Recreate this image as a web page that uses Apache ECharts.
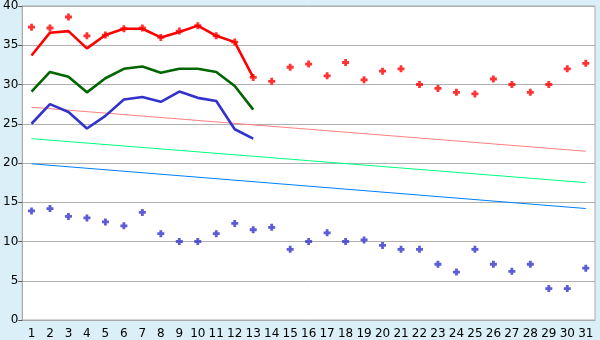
<!DOCTYPE html>
<html>
<head>
<meta charset="utf-8">
<script src="https://cdn.jsdelivr.net/npm/echarts@6/dist/echarts.min.js"></script>
<style>
  html, body { margin: 0; padding: 0; background: #daeff7; }
  #chart { width: 600px; height: 340px; }
</style>
</head>
<body>
<div id="chart"></div>
<script>
// days of the month
const days = [];
for (let d = 1; d <= 31; d++) days.push(String(d));

// thick lines (days 1..13)
const redLine = [33.7, 36.6, 36.8, 34.6, 36.3, 37.1, 37.1, 36.0, 36.7, 37.5, 36.2, 35.4, 30.9];
const greenLine = [29.1, 31.6, 31.0, 29.0, 30.8, 32.0, 32.3, 31.5, 32.0, 32.0, 31.6, 29.8, 26.8];
const blueLine = [25.0, 27.5, 26.5, 24.4, 26.0, 28.1, 28.4, 27.8, 29.1, 28.3, 27.9, 24.3, 23.1];

// scatter points
const redPoints = [37.3, 37.2, 38.6, 36.2, 36.3, 37.1, 37.2, 36.0, 36.8, 37.5, 36.2, 35.4, 30.9,
  30.4, 32.2, 32.6, 31.1, 32.8, 30.6, 31.7, 32.0, 30.0, 29.5, 29.0, 28.8, 30.7, 30.0, 29.0, 30.0, 32.0, 32.7];
const bluePoints = [13.9, 14.2, 13.2, 13.0, 12.5, 12.0, 13.7, 11.0, 10.0, 10.0, 11.0, 12.3, 11.5,
  11.8, 9.0, 10.0, 11.1, 10.0, 10.2, 9.5, 9.0, 9.0, 7.1, 6.1, 9.0, 7.1, 6.2, 7.1, 4.0, 4.0, 6.6];

// straight trend lines: [value at day 1, value at day 31]
const pinkTrend = [27.1, 21.5];
const springTrend = [23.1, 17.5];
const azureTrend = [19.9, 14.2];

const yTicks = [0, 40, 5]; // min, max, interval

function ends(pair) {
  const arr = days.map(() => null);
  arr[0] = pair[0];
  arr[arr.length - 1] = pair[1];
  return arr;
}

// chunky plus marker
const plus = 'path://M3,0H7V3H10V7H7V10H3V7H0V3H3Z';

const chart = echarts.init(document.getElementById('chart'));

const trendSeries = (data, color) => ({
  type: 'line',
  data: ends(data),
  connectNulls: true,
  showSymbol: false,
  symbol: 'none',
  lineStyle: { color: color, width: 1 },
  z: 2,
  animation: false
});

const thickSeries = (data, color) => ({
  type: 'line',
  data: data,
  showSymbol: false,
  symbol: 'none',
  lineStyle: { color: color, width: 2.6 },
  z: 3,
  animation: false
});

const pointSeries = (data, color) => ({
  type: 'scatter',
  data: data,
  symbol: plus,
  symbolSize: 7,
  itemStyle: { color: color },
  z: 4,
  animation: false
});

chart.setOption({
  backgroundColor: '#daeff7',
  textStyle: { fontFamily: 'DejaVu Sans' },
  grid: {
    left: 21, right: 5, top: 5, bottom: 20,
    show: true,
    backgroundColor: '#ffffff',
    borderColor: '#aaaaaa',
    borderWidth: 1
  },
  xAxis: {
    type: 'category',
    data: days,
    boundaryGap: true,
    axisLine: { lineStyle: { color: '#aaaaaa', width: 1 } },
    axisTick: { alignWithLabel: true, length: 5, lineStyle: { color: '#000000' } },
    axisLabel: { color: '#000000', fontSize: 12, margin: 8, interval: 0 },
    splitLine: { show: false }
  },
  yAxis: {
    type: 'value',
    min: yTicks[0],
    max: yTicks[1],
    interval: yTicks[2],
    axisLine: { show: true, lineStyle: { color: '#aaaaaa', width: 1 } },
    axisTick: { show: true, length: 4, lineStyle: { color: '#555555' } },
    axisLabel: { color: '#000000', fontSize: 12, margin: 4 },
    splitLine: { lineStyle: { color: '#b0b0b0', width: 1 } }
  },
  series: [
    trendSeries(pinkTrend, '#ff8080'),
    trendSeries(springTrend, '#00ff80'),
    trendSeries(azureTrend, '#0080ff'),
    thickSeries(redLine, '#ff0000'),
    thickSeries(greenLine, '#006600'),
    thickSeries(blueLine, '#3333cc'),
    pointSeries(redPoints, '#ff0000'),
    pointSeries(bluePoints, '#3333cc')
  ]
});
</script>
</body>
</html>
